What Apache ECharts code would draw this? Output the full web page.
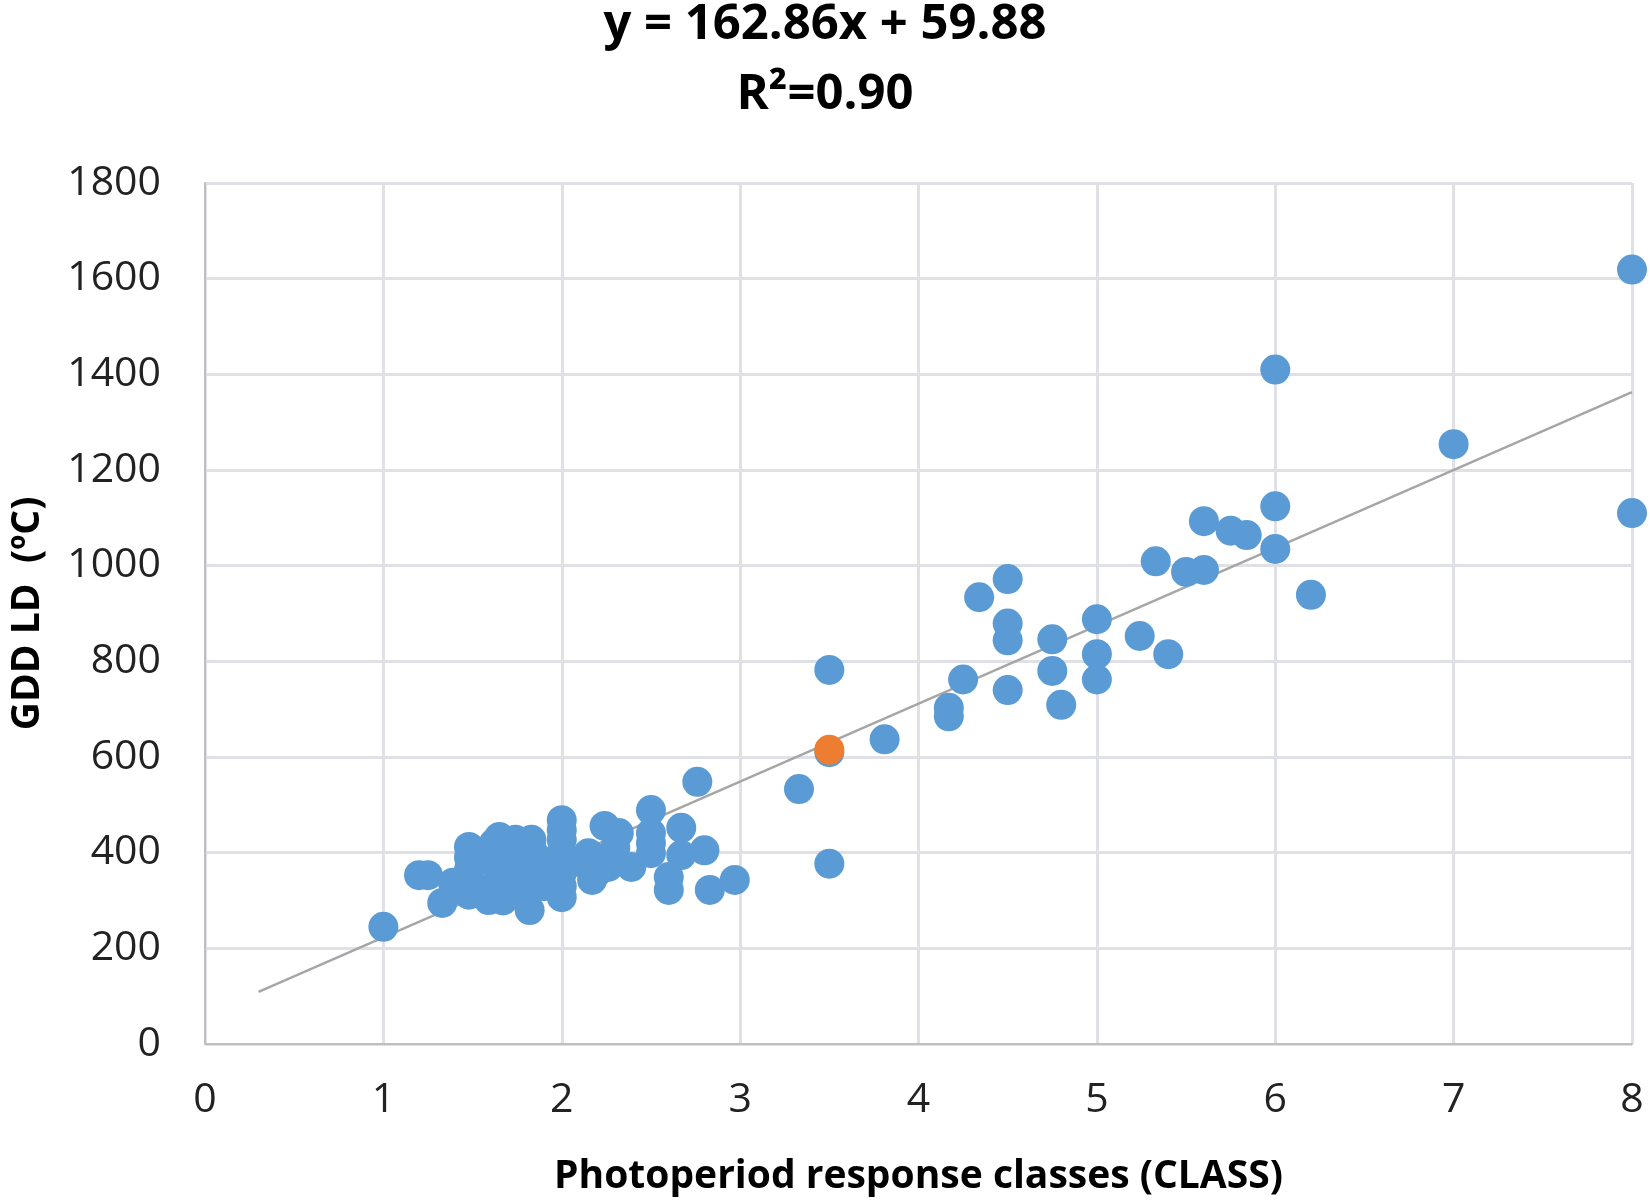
<!DOCTYPE html>
<html><head><meta charset="utf-8">
<script src="https://cdn.jsdelivr.net/npm/echarts@6/dist/echarts.min.js"></script>
<style>html,body{margin:0;padding:0;background:#fff}#c{width:1650px;height:1203px}</style>
</head><body><div id="c"></div>
<script>
const titleLine1 = "y = 162.86x + 59.88";
const titleLine2 = "R²=0.90";
const xName = "Photoperiod response classes (CLASS)";
const yName = "GDD LD  (ºC)";
const xTicks = [0,1,2,3,4,5,6,7,8];
const yTicks = [0,200,400,600,800,1000,1200,1400,1600,1800];

const classX = [1.0,1.2,1.25,1.33,1.39,1.48,1.48,1.48,1.48,1.48,1.52,1.56,1.59,1.61,1.62,1.65,1.67,1.67,1.7,1.72,1.74,1.76,1.78,1.8,1.82,1.83,1.85,1.88,1.9,
  2.0,2.0,2.0,2.0,2.0,2.0,2.0,2.0,2.1,2.15,2.17,2.2,2.24,2.26,2.3,2.32,2.39,2.5,2.5,2.5,2.5,2.6,2.6,2.67,2.67,2.76,2.8,2.83,2.97,
  3.33,3.5,3.5,3.5,3.81,4.17,4.17,4.25,4.34,4.5,4.5,4.5,4.5,4.75,4.75,4.8,5.0,5.0,5.0,5.24,5.33,5.4,5.5,5.6,5.6,5.75,5.84,6.0,6.0,6.0,6.2,7.0,8.0,8.0];
const gddY = [245,353,353,295,337,412,390,364,340,312,400,385,301,328,420,433,349,300,400,337,427,378,355,322,280,427,395,360,330,
  468,447,427,399,370,357,330,307,380,399,343,360,456,370,410,441,370,489,441,420,399,349,322,452,395,548,405,322,343,
  533,782,610,377,637,703,685,762,934,972,879,844,740,846,780,709,888,815,762,853,1009,815,987,991,1093,1073,1064,1124,1035,1410,939,1254,1619,1110];
const highlightX = [3.5];
const highlightY = [615];
const trendX = [0.3, 8];
const trendY = [109, 1363];

const pts = classX.map((x,i)=>[x,gddY[i]]);
const hpts = highlightX.map((x,i)=>[x,highlightY[i]]);
const tpts = trendX.map((x,i)=>[x,trendY[i]]);

const chart = echarts.init(document.getElementById('c'));
const font = 'Open Sans, sans-serif';
chart.setOption({
  animation:false,
  title:{
    text: titleLine1 + '\n' + titleLine2,
    left:'center', top:-15,
    textStyle:{fontFamily:font, fontWeight:'bold', fontSize:49, lineHeight:70, color:'#000'}
  },
  grid:{left:202, right:18, top:183, bottom:159, containLabel:false},
  xAxis:{
    type:'value', min:0, max:8, interval:1,
    name:xName, nameLocation:'middle', nameGap:113,
    nameTextStyle:{fontFamily:font, fontWeight:'bold', fontSize:39, color:'#000'},
    axisLine:{show:true, lineStyle:{color:'#bfbfbf', width:2}},
    axisTick:{show:false},
    axisLabel:{fontFamily:font, fontSize:41, color:'#222', margin:36,
      formatter:v=>xTicks.includes(v)?String(v):''},
    splitLine:{show:true, lineStyle:{color:'#dfe1e6', width:3}}
  },
  yAxis:{
    type:'value', min:0, max:1800, interval:200,
    name:yName, nameLocation:'middle', nameGap:158,
    nameTextStyle:{fontFamily:font, fontWeight:'bold', fontSize:39, color:'#000'},
    axisLine:{show:true, lineStyle:{color:'#bfbfbf', width:2}},
    axisTick:{show:false},
    axisLabel:{fontFamily:font, fontSize:41, color:'#222', margin:44,
      formatter:v=>yTicks.includes(v)?String(v):''},
    splitLine:{show:true, lineStyle:{color:'#dfe1e6', width:3}}
  },
  series:[
    {type:'line', data:tpts, symbol:'none', lineStyle:{color:'#a6a6a6', width:2.5}, z:1},
    {type:'scatter', data:pts, symbolSize:30, itemStyle:{color:'#5b9bd5', opacity:1}, z:2},
    {type:'scatter', data:hpts, symbolSize:30, itemStyle:{color:'#ed7d31', opacity:1}, z:3}
  ]
});
</script></body></html>
